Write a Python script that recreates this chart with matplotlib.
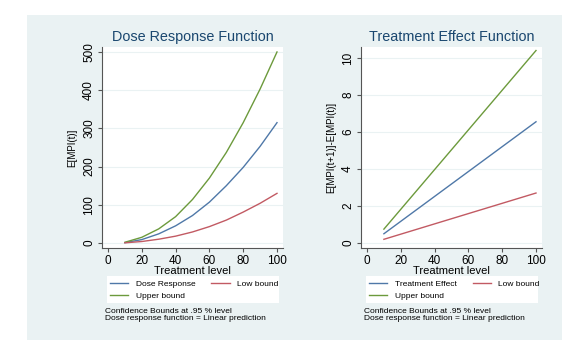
import matplotlib.pyplot as plt
from matplotlib.patches import Rectangle

plt.rcParams['font.family'] = ['Liberation Sans', 'DejaVu Sans']

# treatment levels
treat = [10, 20, 30, 40, 50, 60, 70, 80, 90, 100]

# dose response function
dose_resp = [1, 9, 24, 45, 72, 107, 150, 198, 253, 315]
dose_low = [0.5, 4, 10, 18, 29, 43, 60, 81, 104, 130]
dose_up = [2, 15, 37, 69, 114, 170, 237, 315, 403, 500]

# treatment effect function
te_treat = [10, 100]
te_effect = [0.5, 6.55]
te_low = [0.2, 2.7]
te_up = [0.75, 10.4]

BLUE = '#4f78a8'
RED = '#c25a63'
GREEN = '#6c9a3c'
NAVY = '#1a476f'
BG = '#eaf2f3'

W, H = 583, 361
fig = plt.figure(figsize=(W / 100, H / 100), dpi=100)
fig.patches.append(Rectangle((27 / W, 1 - 340 / H), (562 - 27) / W, (340 - 15) / H,
                             transform=fig.transFigure, facecolor=BG,
                             edgecolor='none', zorder=-5))


def panel(x0, title, ylabel, xs, mid, low, up, mid_label, ylim, yticks):
    ax = fig.add_axes([x0 / W, 1 - 248 / H, 181 / W, 201 / H])
    ax.plot(xs, mid, color=BLUE, lw=1.0, label=mid_label)
    ax.plot(xs, up, color=GREEN, lw=1.0, label='Upper bound')
    ax.plot(xs, low, color=RED, lw=1.0, label='Low bound')
    ax.set_xlim(-3.55, 103.55)
    ax.set_ylim(*ylim)
    ax.set_xticks([0, 20, 40, 60, 80, 100])
    ax.set_yticks(yticks)
    ax.grid(axis='y', color=BG, lw=0.8)
    ax.set_axisbelow(True)
    for s in ['top', 'right']:
        ax.spines[s].set_visible(False)
    for s in ['left', 'bottom']:
        ax.spines[s].set_color('#555555')
        ax.spines[s].set_linewidth(0.8)
    ax.tick_params(labelsize=8.5, length=3, width=0.8, color='#555555', pad=2)
    ax.tick_params(axis='y', labelrotation=90)
    for t in ax.get_yticklabels():
        t.set_va('center')
    ax.set_title(title, fontsize=10.4, color=NAVY, pad=4.5)
    ax.set_xlabel('Treatment level', fontsize=8, labelpad=-1)
    ax.set_ylabel(ylabel, fontsize=7, labelpad=4)

    # white legend box, then the legend entries on top of it
    fig.patches.append(Rectangle(((x0 + 5) / W, 1 - 303 / H), 172 / W, 27 / H,
                                 transform=fig.transFigure, facecolor='white',
                                 edgecolor='none', zorder=-1))
    handles, labels = ax.get_legend_handles_labels()
    ax.legend(handles, labels, ncol=2, loc='upper left',
              bbox_to_anchor=((x0 + 8) / W, 1 - 280 / H),
              bbox_transform=fig.transFigure,
              fontsize=6, frameon=False, handlelength=2.2,
              columnspacing=1.9, labelspacing=0.55, borderpad=0,
              handletextpad=0.9, borderaxespad=0)
    fig.text((x0 + 3) / W, 1 - 308 / H,
             'Confidence Bounds at .95 % level\nDose response function = Linear prediction',
             fontsize=6, va='top', ha='left', linespacing=0.9)
    return ax


panel(102, 'Dose Response Function', 'E[MPI(t)]', treat,
      dose_resp, dose_low, dose_up, 'Dose Response',
      (-13, 513), [0, 100, 200, 300, 400, 500])
panel(361, 'Treatment Effect Function', 'E[MPI(t+1)]-E[MPI(t)]', te_treat,
      te_effect, te_low, te_up, 'Treatment Effect',
      (-0.27, 10.59), [0, 2, 4, 6, 8, 10])

fig.savefig('out.png', dpi=100)
